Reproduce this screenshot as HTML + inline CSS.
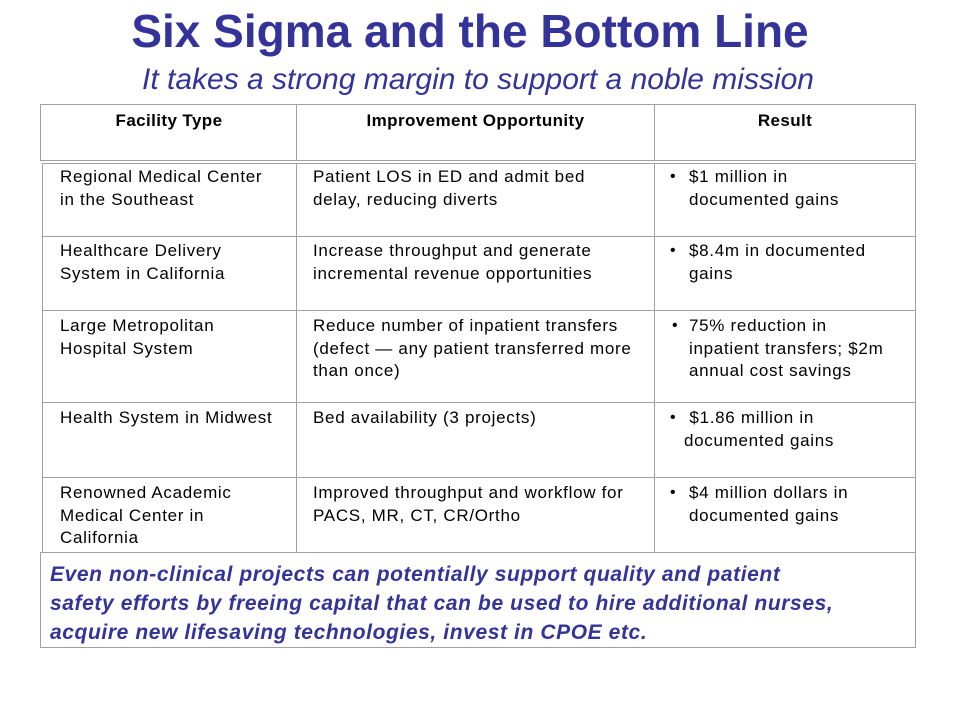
<!DOCTYPE html>
<html><head><meta charset="utf-8"><style>
body{margin:0;width:960px;height:720px;background:#fff;position:relative;overflow:hidden;font-family:"Liberation Sans",Arial,sans-serif;}
.abs{position:absolute;}
.title{left:0;width:940px;top:5px;text-align:center;font-size:46px;font-weight:bold;color:#333399;line-height:52px;}
.sub{left:0;width:956px;top:62px;text-align:center;font-size:30px;font-style:italic;color:#333399;line-height:36px;}
.hline{position:absolute;height:1px;background:#a0a0a0;}
.vline{position:absolute;width:1px;background:#a0a0a0;}
.hdr{position:absolute;top:111px;font-size:17px;letter-spacing:0.4px;font-weight:bold;text-align:center;color:#000;}
.cell{position:absolute;font-size:17px;letter-spacing:0.7px;line-height:22.5px;color:#000;white-space:nowrap;}
.bul{position:absolute;font-size:16px;line-height:22.5px;}
.foot{left:50px;top:560px;width:880px;font-size:21px;letter-spacing:0.6px;font-weight:bold;font-style:italic;color:#333399;line-height:29px;white-space:nowrap;}
</style></head><body>
<div class="abs title">Six Sigma and the Bottom Line</div>
<div class="abs sub">It takes a strong margin to support a noble mission</div>

<div class="hline" style="left:40px;top:104px;width:876px;"></div>
<div class="hline" style="left:40px;top:160px;width:876px;"></div>
<div class="vline" style="left:40px;top:104px;height:57px;"></div>
<div class="vline" style="left:915px;top:104px;height:57px;"></div>
<div class="vline" style="left:296px;top:104px;height:57px;"></div>
<div class="vline" style="left:654px;top:104px;height:57px;"></div>
<div class="hdr" style="left:42px;width:254px;">Facility Type</div>
<div class="hdr" style="left:297px;width:357px;">Improvement Opportunity</div>
<div class="hdr" style="left:655px;width:260px;">Result</div>

<div class="hline" style="left:42px;top:163px;width:874px;"></div>
<div class="hline" style="left:42px;top:236px;width:874px;"></div>
<div class="hline" style="left:42px;top:310px;width:874px;"></div>
<div class="hline" style="left:42px;top:402px;width:874px;"></div>
<div class="hline" style="left:42px;top:477px;width:874px;"></div>
<div class="hline" style="left:40px;top:552px;width:876px;"></div>
<div class="vline" style="left:42px;top:163px;height:389px;"></div>
<div class="vline" style="left:296px;top:163px;height:389px;"></div>
<div class="vline" style="left:654px;top:163px;height:389px;"></div>
<div class="vline" style="left:915px;top:163px;height:389px;"></div>

<div class="cell" style="left:60px;top:166px;">Regional Medical Center<br>in the Southeast</div>
<div class="cell" style="left:313px;top:166px;">Patient LOS in ED and admit bed<br>delay, reducing diverts</div>
<div class="bul" style="left:670px;top:166px;">•</div>
<div class="cell" style="left:689px;top:166px;">$1 million in<br>documented gains</div>

<div class="cell" style="left:60px;top:240px;">Healthcare Delivery<br>System in California</div>
<div class="cell" style="left:313px;top:240px;">Increase throughput and generate<br>incremental revenue opportunities</div>
<div class="bul" style="left:670px;top:240px;">•</div>
<div class="cell" style="left:689px;top:240px;">$8.4m in documented<br>gains</div>

<div class="cell" style="left:60px;top:315px;">Large Metropolitan<br>Hospital System</div>
<div class="cell" style="left:313px;top:315px;">Reduce number of inpatient transfers<br>(defect — any patient transferred more<br>than once)</div>
<div class="bul" style="left:672px;top:315px;">•</div>
<div class="cell" style="left:689px;top:315px;">75% reduction in<br>inpatient transfers; $2m<br>annual cost savings</div>

<div class="cell" style="left:60px;top:407px;">Health System in Midwest</div>
<div class="cell" style="left:313px;top:407px;">Bed availability (3 projects)</div>
<div class="bul" style="left:670px;top:407px;">•</div>
<div class="cell" style="left:684px;top:407px;">&nbsp;$1.86 million in<br>documented gains</div>

<div class="cell" style="left:60px;top:482px;">Renowned Academic<br>Medical Center in<br>California</div>
<div class="cell" style="left:313px;top:482px;">Improved throughput and workflow for<br>PACS, MR, CT, CR/Ortho</div>
<div class="bul" style="left:670px;top:482px;">•</div>
<div class="cell" style="left:689px;top:482px;">$4 million dollars in<br>documented gains</div>

<div class="vline" style="left:40px;top:552px;height:96px;"></div>
<div class="vline" style="left:915px;top:552px;height:96px;"></div>
<div class="hline" style="left:40px;top:647px;width:876px;"></div>
<div class="abs foot">Even non-clinical projects can potentially support quality and patient<br>safety efforts by freeing capital that can be used to hire additional nurses,<br>acquire new lifesaving technologies, invest in CPOE etc.</div>
</body></html>
